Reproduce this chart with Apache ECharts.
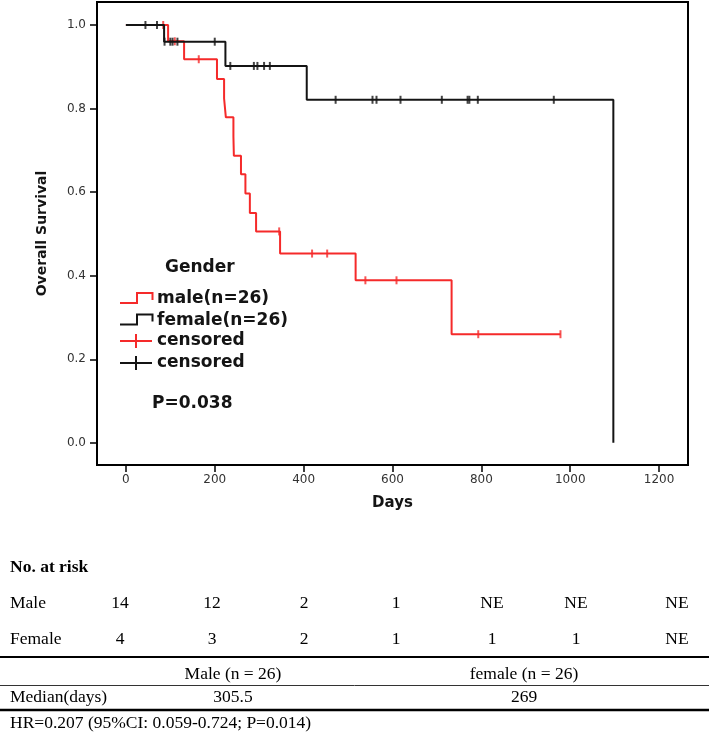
<!DOCTYPE html>
<html><head><meta charset="utf-8">
<script src="https://cdn.jsdelivr.net/npm/echarts@6/dist/echarts.min.js"></script>
<style>html,body{margin:0;padding:0;background:#fff}#c{width:709px;height:732px}</style>
</head><body><div id="c"></div>
<script>
// ---------- data ----------
const xTicks = [0, 200, 400, 600, 800, 1000, 1200];
const yTicks = [0, 0.2, 0.4, 0.6, 0.8, 1.0];

const maleTimes = [0, 95, 131, 205, 221, 225, 242, 243, 259, 269, 279, 293, 347, 517, 733, 978];
const maleSurv  = [1, 0.961, 0.918, 0.871, 0.824, 0.779, 0.733, 0.687, 0.643, 0.597, 0.55, 0.506, 0.453, 0.389, 0.26, 0.26];
const maleCensTimes = [84, 110, 164, 345, 419, 453, 539, 609, 793, 978];
const maleCensSurv  = [1, 0.961, 0.918, 0.506, 0.453, 0.453, 0.389, 0.389, 0.26, 0.26];

const femaleTimes = [0, 86, 224, 407, 1097];
const femaleSurv  = [1, 0.96, 0.902, 0.821, 0];
const femaleCensTimes = [44, 70, 87, 100, 105, 116, 200, 235, 288, 296, 311, 324, 472, 555, 564, 618, 711, 769, 773, 792, 963];
const femaleCensSurv  = [1, 1, 0.96, 0.96, 0.96, 0.96, 0.96, 0.902, 0.902, 0.902, 0.902, 0.902, 0.821, 0.821, 0.821, 0.821, 0.821, 0.821, 0.821, 0.821, 0.821];

const legendTitle = 'Gender';
const legendLabels = ['male(n=26)', 'female(n=26)', 'censored', 'censored'];
const pValueText = 'P=0.038';

const riskTitle = 'No. at risk';
const riskRowNames = ['Male', 'Female'];
const riskMale   = ['14', '12', '2', '1', 'NE', 'NE', 'NE'];
const riskFemale = ['4', '3', '2', '1', '1', '1', 'NE'];
const medianHeaders = ['Male (n = 26)', 'female (n = 26)'];
const medianLabel = 'Median(days)';
const medianValues = ['305.5', '269'];
const hrText = 'HR=0.207 (95%CI: 0.059-0.724; P=0.014)';

// ---------- build ----------
const RED = '#f52a2a', BLK = '#141414';
const zip = (a, b) => a.map((v, i) => [v, b[i]]);

const chart = echarts.init(document.getElementById('c'), null, {renderer: 'canvas'});

const serif = "'Liberation Serif','Times New Roman',serif";
const sansB = "'DejaVu Sans',sans-serif";
const TFS = '17.5px ';

// layout for the table / legend (positions only)
const riskColX = [120, 212, 304, 396, 492, 576, 677];
const g = [];
// legend
g.push({type: 'text', left: 165, top: 259, style: {text: legendTitle, font: 'bold 17px ' + sansB, fill: BLK}});
const legY = [299, 320.5, 341, 363];
g.push({type: 'polyline', shape: {points: [[120, legY[0] + 4], [137, legY[0] + 4], [137, legY[0] - 6], [152.5, legY[0] - 6], [152.5, legY[0] + 1]]}, style: {stroke: RED, lineWidth: 2, fill: null}});
g.push({type: 'polyline', shape: {points: [[120, legY[1] + 4], [137, legY[1] + 4], [137, legY[1] - 6], [152.5, legY[1] - 6], [152.5, legY[1] + 1]]}, style: {stroke: BLK, lineWidth: 2, fill: null}});
g.push({type: 'line', shape: {x1: 120, y1: legY[2], x2: 152, y2: legY[2]}, style: {stroke: RED, lineWidth: 2}});
g.push({type: 'line', shape: {x1: 136, y1: legY[2] - 7, x2: 136, y2: legY[2] + 7}, style: {stroke: RED, lineWidth: 2}});
g.push({type: 'line', shape: {x1: 120, y1: legY[3], x2: 152, y2: legY[3]}, style: {stroke: BLK, lineWidth: 2}});
g.push({type: 'line', shape: {x1: 136, y1: legY[3] - 7, x2: 136, y2: legY[3] + 7}, style: {stroke: BLK, lineWidth: 2}});
legendLabels.forEach((t, i) => {
  g.push({type: 'text', x: 157, y: legY[i], style: {text: t, font: 'bold 17px ' + sansB, fill: BLK, verticalAlign: 'middle'}});
});
g.push({type: 'text', x: 152, y: 404, style: {text: pValueText, font: 'bold 17px ' + sansB, fill: BLK, verticalAlign: 'middle'}});

// risk table
g.push({type: 'text', x: 10, y: 567, style: {text: riskTitle, font: 'bold ' + TFS + serif, fill: '#000', verticalAlign: 'middle'}});
const rowY = [603, 639];
[riskMale, riskFemale].forEach((row, r) => {
  g.push({type: 'text', x: 10, y: rowY[r], style: {text: riskRowNames[r], font: TFS + serif, fill: '#000', verticalAlign: 'middle'}});
  row.forEach((v, i) => {
    g.push({type: 'text', x: riskColX[i], y: rowY[r], style: {text: v, font: TFS + serif, fill: '#000', align: 'center', verticalAlign: 'middle'}});
  });
});
g.push({type: 'line', shape: {x1: 0, y1: 657, x2: 709, y2: 657}, style: {stroke: '#000', lineWidth: 2}});
const medColX = [233, 524];
medianHeaders.forEach((t, i) => {
  g.push({type: 'text', x: medColX[i], y: 674, style: {text: t, font: TFS + serif, fill: '#000', align: 'center', verticalAlign: 'middle'}});
});
g.push({type: 'line', shape: {x1: 0, y1: 685.5, x2: 709, y2: 685.5}, style: {stroke: '#333', lineWidth: 1}});
g.push({type: 'text', x: 10, y: 697, style: {text: medianLabel, font: TFS + serif, fill: '#000', verticalAlign: 'middle'}});
medianValues.forEach((t, i) => {
  g.push({type: 'text', x: medColX[i], y: 697, style: {text: t, font: TFS + serif, fill: '#000', align: 'center', verticalAlign: 'middle'}});
});
g.push({type: 'line', shape: {x1: 0, y1: 710, x2: 709, y2: 710}, style: {stroke: '#000', lineWidth: 2.5}});
g.push({type: 'text', x: 10, y: 723, style: {text: hrText, font: TFS + serif, fill: '#000', verticalAlign: 'middle'}});

const option = {
  animation: false,
  backgroundColor: '#fff',
  grid: {left: 97, right: 21, top: 2, height: 463, show: true, borderColor: '#000', borderWidth: 2, backgroundColor: 'transparent'},
  xAxis: {
    type: 'value', min: -65, max: 1265,
    name: 'Days', nameLocation: 'middle', nameGap: 31,
    nameTextStyle: {fontFamily: 'DejaVu Sans', fontWeight: 'bold', fontSize: 15, color: BLK},
    axisLine: {show: false, onZero: false},
    axisTick: {show: true, length: 7, customValues: xTicks, lineStyle: {color: '#000', width: 1.5}},
    axisLabel: {customValues: xTicks, margin: 9, fontFamily: 'DejaVu Sans', fontSize: 12, color: '#333',
      formatter: v => String(v)},
    splitLine: {show: false}
  },
  yAxis: {
    type: 'value', min: -0.053, max: 1.055,
    name: 'Overall Survival', nameLocation: 'middle', nameGap: 48, nameRotate: 90,
    nameTextStyle: {fontFamily: 'DejaVu Sans', fontWeight: 'bold', fontSize: 14, color: BLK},
    axisLine: {show: false, onZero: false},
    axisTick: {show: true, length: 7, customValues: yTicks, lineStyle: {color: '#000', width: 1.5}},
    axisLabel: {customValues: yTicks, margin: 11, fontFamily: 'DejaVu Sans', fontSize: 12, color: '#333',
      formatter: v => v.toFixed(1)},
    splitLine: {show: false}
  },
  series: [
    {name: 'male(n=26)', type: 'line', step: 'end', data: zip(maleTimes, maleSurv), showSymbol: false,
      lineStyle: {color: RED, width: 2}, itemStyle: {color: RED}, z: 2},
    {name: 'male censored', type: 'scatter', data: zip(maleCensTimes, maleCensSurv), symbol: 'rect', symbolSize: [2, 8],
      itemStyle: {color: RED}, z: 3},
    {name: 'female(n=26)', type: 'line', step: 'end', data: zip(femaleTimes, femaleSurv), showSymbol: false,
      lineStyle: {color: BLK, width: 2}, itemStyle: {color: BLK}, z: 4},
    {name: 'female censored', type: 'scatter', data: zip(femaleCensTimes, femaleCensSurv), symbol: 'rect', symbolSize: [2, 8],
      itemStyle: {color: BLK}, z: 5}
  ],
  graphic: g
};
chart.setOption(option);
</script>
</body></html>
